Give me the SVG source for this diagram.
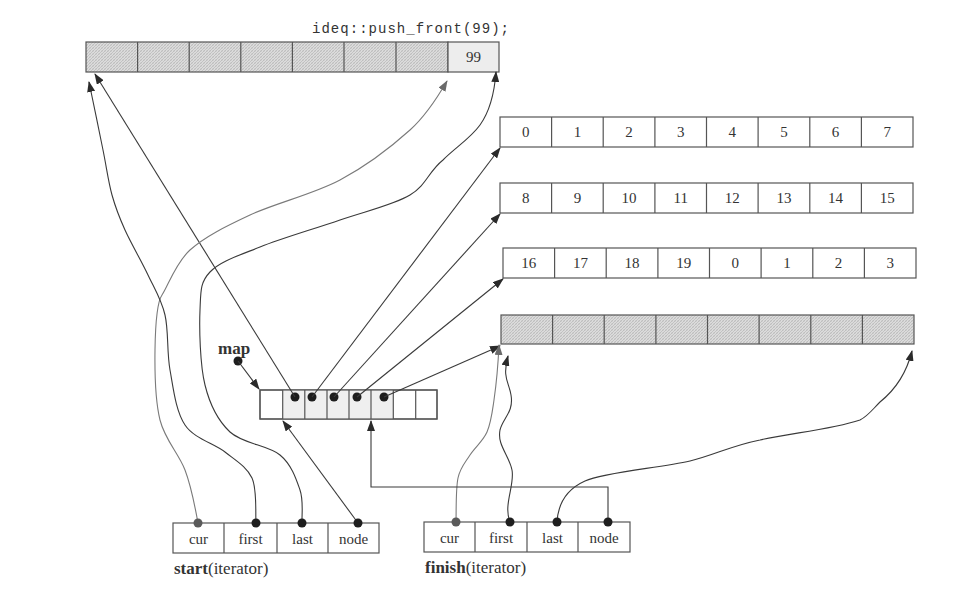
<svg xmlns="http://www.w3.org/2000/svg" width="970" height="601" viewBox="0 0 970 601">
<defs>
<pattern id="hatch" width="3" height="3" patternUnits="userSpaceOnUse">
<rect width="3" height="3" fill="#dcdcdc"/>
<path d="M0,3 L3,0" stroke="#b2b2b2" stroke-width="0.7"/>
<path d="M0,0 L3,3" stroke="#c8c8c8" stroke-width="0.5"/>
</pattern>
<marker id="arr" markerWidth="11" markerHeight="8" refX="10" refY="4" orient="auto" markerUnits="userSpaceOnUse">
<path d="M0,0 L11,4 L0,8 z" fill="#2a2a2a"/>
</marker>
<marker id="arrg" markerWidth="11" markerHeight="8" refX="10" refY="4" orient="auto" markerUnits="userSpaceOnUse">
<path d="M0,0 L11,4 L0,8 z" fill="#6a6a6a"/>
</marker>
</defs>
<style>
.box{fill:#fff;stroke:#555;stroke-width:1.2}
.hb{fill:url(#hatch);stroke:#555;stroke-width:1.2}
.div{stroke:#555;stroke-width:1.2}
.num{font-family:"Liberation Serif","Times New Roman",serif;font-size:15px;fill:#333;text-anchor:middle}
.lbl{font-family:"Liberation Serif","Times New Roman",serif;font-size:17px;fill:#333}
.code{font-family:"Liberation Mono","DejaVu Sans Mono",monospace;font-size:14px;fill:#333}
.ln{fill:none;stroke:#3a3a3a;stroke-width:1.1;marker-end:url(#arr)}
.lg{fill:none;stroke:#7a7a7a;stroke-width:1.1;marker-end:url(#arrg)}
.dot{fill:#1e1e1e}
.dotg{fill:#5a5a5a}
</style>
<rect width="970" height="601" fill="#fff"/>

<g id="caption">
<text class="code" x="509" y="33" text-anchor="end" textLength="197" lengthAdjust="spacing">ideq::push_front(99);</text>
</g>

<g id="buffer-top">
<rect class="hb" x="86" y="42" width="362" height="30"/>
<rect x="448" y="42" width="51" height="30" fill="#ededed" stroke="#555" stroke-width="1.2"/>
<path class="div" d="M137.6,42V72M189.2,42V72M240.8,42V72M292.4,42V72M344,42V72M396,42V72"/>
<text class="num" x="473.5" y="62">99</text>
</g>

<g id="buffer-1">
<rect class="box" x="500" y="117" width="413" height="30"/>
<path class="div" d="M551.6,117V147M603.2,117V147M654.9,117V147M706.5,117V147M758.1,117V147M809.8,117V147M861.4,117V147"/>
<text class="num" x="525.8" y="137">0</text><text class="num" x="577.4" y="137">1</text><text class="num" x="629" y="137">2</text><text class="num" x="680.7" y="137">3</text><text class="num" x="732.3" y="137">4</text><text class="num" x="783.9" y="137">5</text><text class="num" x="835.6" y="137">6</text><text class="num" x="887.2" y="137">7</text>
</g>

<g id="buffer-2">
<rect class="box" x="500" y="183" width="413" height="30"/>
<path class="div" d="M551.6,183V213M603.2,183V213M654.9,183V213M706.5,183V213M758.1,183V213M809.8,183V213M861.4,183V213"/>
<text class="num" x="525.8" y="203">8</text><text class="num" x="577.4" y="203">9</text><text class="num" x="629" y="203">10</text><text class="num" x="680.7" y="203">11</text><text class="num" x="732.3" y="203">12</text><text class="num" x="783.9" y="203">13</text><text class="num" x="835.6" y="203">14</text><text class="num" x="887.2" y="203">15</text>
</g>

<g id="buffer-3">
<rect class="box" x="503" y="248" width="413" height="30"/>
<path class="div" d="M554.6,248V278M606.2,248V278M657.9,248V278M709.5,248V278M761.1,248V278M812.8,248V278M864.4,248V278"/>
<text class="num" x="528.8" y="268">16</text><text class="num" x="580.4" y="268">17</text><text class="num" x="632" y="268">18</text><text class="num" x="683.7" y="268">19</text><text class="num" x="735.3" y="268">0</text><text class="num" x="786.9" y="268">1</text><text class="num" x="838.6" y="268">2</text><text class="num" x="890.2" y="268">3</text>
</g>

<g id="buffer-4">
<rect class="hb" x="501" y="315" width="413" height="29"/>
<path class="div" d="M552.6,315V344M604.2,315V344M655.9,315V344M707.5,315V344M759.1,315V344M810.8,315V344M862.4,315V344"/>
</g>

<g id="map">
<rect class="box" x="260" y="390" width="177" height="29"/>
<rect x="282.7" y="390" width="110.6" height="29" fill="#efefef"/>
<rect x="260" y="390" width="177" height="29" fill="none" stroke="#555" stroke-width="1.2"/>
<path class="div" d="M282.7,390V419M304.8,390V419M327,390V419M349,390V419M371,390V419M393.3,390V419M415.7,390V419"/>
<text class="lbl" x="218" y="354" font-weight="bold">map</text>
<circle class="dot" cx="238" cy="361" r="4.5"/>
<circle class="dot" cx="295" cy="397" r="4.5"/>
<circle class="dot" cx="312" cy="397" r="4.5"/>
<circle class="dot" cx="334" cy="397" r="4.5"/>
<circle class="dot" cx="357" cy="397" r="4.5"/>
<circle class="dot" cx="384" cy="397" r="4.5"/>
</g>

<g id="start">
<rect class="box" x="173" y="523" width="206" height="30"/>
<path class="div" d="M224,523V553M277,523V553M328,523V553"/>
<text class="num" x="198.5" y="544">cur</text>
<text class="num" x="250.5" y="544">first</text>
<text class="num" x="302.5" y="544">last</text>
<text class="num" x="353.5" y="544">node</text>
<text class="lbl" x="174" y="574"><tspan font-weight="bold">start</tspan>(iterator)</text>
</g>

<g id="finish">
<rect class="box" x="424" y="522" width="206" height="30"/>
<path class="div" d="M475,522V552M527,522V552M578,522V552"/>
<text class="num" x="449.5" y="543">cur</text>
<text class="num" x="501" y="543">first</text>
<text class="num" x="552.5" y="543">last</text>
<text class="num" x="604" y="543">node</text>
<text class="lbl" x="425" y="573"><tspan font-weight="bold">finish</tspan>(iterator)</text>
</g>

<g id="connectors">
<path class="ln" d="M238,361 L259,389"/>
<path class="ln" d="M295,397 L95,74"/>
<path class="ln" d="M312,397 L500,148"/>
<path class="ln" d="M334,397 L500,214"/>
<path class="ln" d="M357,397 L503,279"/>
<path class="ln" d="M384,397 L500,346"/>

<path class="lg" d="M198,523 C195.8,510.8 191.3,486.5 185,470 C178.7,453.5 165,440 160,420 C155,400 154.7,370.8 155,350 C155.3,329.2 156.2,303.3 162,295 C167.8,286.7 175.3,263.3 190,250 C204.7,236.7 225,226.7 250,215 C275,203.3 313.3,194.2 340,180 C366.7,165.8 392.2,146 410,130 C427.8,114 440.8,91.7 447,81"/>
<path class="ln" d="M256,523 C255.3,512.2 257.2,489.2 252,478 C246.8,466.8 236.2,460.8 225,452 C213.8,443.2 194.2,438.7 185,425 C175.8,411.3 173.3,388.3 170,370 C166.7,351.7 168.7,330.8 165,315 C161.3,299.2 154.7,289.2 148,275 C141.3,260.8 131,243.3 125,230 C119,216.7 115.7,208.3 112,195 C108.3,181.7 106.7,168.2 103,150 C99.3,131.8 92.2,96.7 89,82"/>
<path class="ln" d="M302,523 C301.7,514.2 303.7,500.7 300,490 C296.3,479.3 291.7,464.7 280,455 C268.3,445.3 242.5,443.7 230,432 C217.5,420.3 210,405.3 205,385 C200,364.7 199.2,328.8 200,310 C200.8,291.2 200,282.5 210,272 C220,261.5 238.3,255.7 260,247 C281.7,238.3 315,228.7 340,220 C365,211.3 393.3,205 410,195 C426.7,185 428.3,171.7 443,160 C455,148 470.7,138 480,125 C489.3,112 494.5,92 496,72"/>
<path class="ln" d="M358,523 L283,421"/>

<path class="lg" d="M456,522 C456.3,512.2 455.7,488.7 458,478 C460.3,467.3 465.2,462.7 470,455 C474.8,447.3 483,441.2 487,432 C491,422.8 492,413.7 494,400 C496,386.3 498.2,362 499,345"/>
<path class="ln" d="M510,522 C503,505 515,485 512,470 C509,455 497,445 500,430 C503,418 514,412 511,395 C509,382 502,378 508,356"/>
<path class="ln" d="M557,522 C558,505 565,490 585,481 C605,472 660,468 690,461 C715,455 730,446 760,440 C790,433 830,430 860,420 C868,416 872,410 880,402 C895,390 906,375 912,351"/>
<path class="ln" d="M608,522 L608,487 L371,487 L371,421"/>
</g>

<g id="iterator-dots">
<circle class="dotg" cx="198" cy="523" r="4.5"/>
<circle class="dot" cx="256" cy="523" r="4.5"/>
<circle class="dot" cx="302" cy="523" r="4.5"/>
<circle class="dot" cx="358" cy="523" r="4.5"/>
<circle class="dotg" cx="456" cy="522" r="4.5"/>
<circle class="dot" cx="510" cy="522" r="4.5"/>
<circle class="dot" cx="557" cy="522" r="4.5"/>
<circle class="dot" cx="608" cy="522" r="4.5"/>
</g>
</svg>
